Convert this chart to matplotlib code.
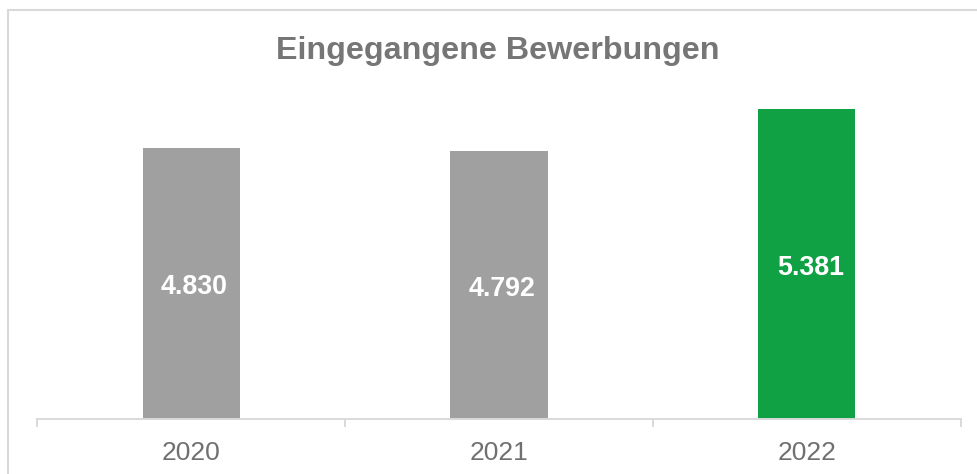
import matplotlib.pyplot as plt
from matplotlib.patches import Rectangle
from matplotlib.transforms import offset_copy

plt.rcParams['font.family'] = ['Liberation Sans', 'DejaVu Sans']

years = ['2020', '2021', '2022']
bewerbungen = [4830, 4792, 5381]
bar_colors = ['#A0A0A0', '#A0A0A0', '#0FA144']
title = 'Eingegangene Bewerbungen'


def fmt_de(v):
    return f'{v:,}'.replace(',', '.')


fig = plt.figure(figsize=(9.77, 4.74), dpi=100)
ax = fig.add_axes([0.0379, 0.1160, 0.9457, 0.7469])

x = list(range(len(years)))
bars = ax.bar(x, bewerbungen, width=0.315, color=bar_colors, zorder=2)

ax.set_ylim(1000, 6000)
ax.set_xlim(-0.5, len(years) - 0.5)

# labels sit a touch right of and below the bar middle
lbl_tr = offset_copy(ax.transData, fig=fig, x=3.5, y=-4, units='dots')
for b, v in zip(bars, bewerbungen):
    ax.text(b.get_x() + b.get_width() / 2, (1000 + v) / 2, fmt_de(v),
            ha='center', va='center', color='white', fontsize=19.3,
            fontweight='bold', zorder=3, transform=lbl_tr)

# axis styling
for s in ['top', 'right', 'left']:
    ax.spines[s].set_visible(False)
ax.spines['bottom'].set_color('#D9D9D9')
ax.spines['bottom'].set_linewidth(1.4)
ax.set_yticks([])
ax.set_xticks(x)
ax.set_xticklabels(years, fontsize=19, color='#707070')
ax.tick_params(axis='x', which='major', length=0, pad=15.5)
ax.set_xticks([i - 0.5 for i in range(len(years) + 1)], minor=True)
ax.tick_params(axis='x', which='minor', length=6, width=1.4, color='#D9D9D9')

fig.text(0.5095, 0.893, title, ha='center', va='center', fontsize=23.2,
         fontweight='bold', color='#767676')

# chart border (only left and top visible in frame)
fig.patches.append(Rectangle((8 / 977, -0.1), 1.2, 1.1 - 10 / 474,
                             transform=fig.transFigure, fill=False,
                             edgecolor='#D9D9D9', linewidth=1.5))

fig.savefig('out.png', dpi=100)
